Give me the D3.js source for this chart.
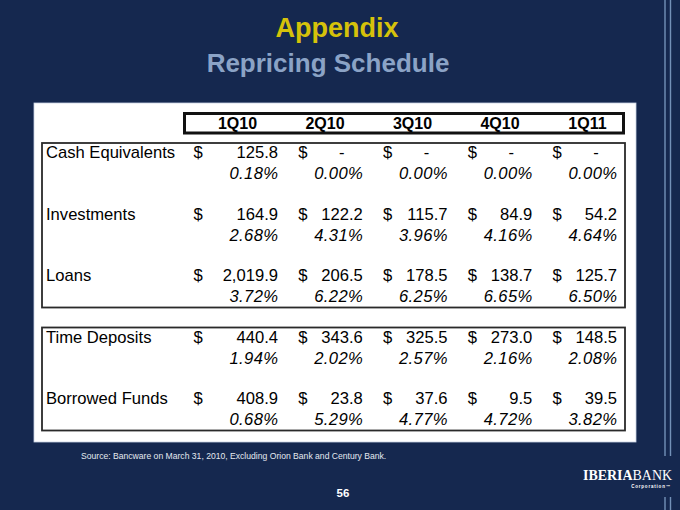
<!DOCTYPE html>
<html><head><meta charset="utf-8">
<script src="https://cdn.jsdelivr.net/npm/d3@7"></script>
<style>
html,body{margin:0;padding:0;background:#15284f;}
svg{display:block;font-family:"Liberation Sans",Arial,sans-serif;}
</style></head>
<body>
<script>
const quarters = ["1Q10","2Q10","3Q10","4Q10","1Q11"];
const rowLabels = ["Cash Equivalents","Investments","Loans","Time Deposits","Borrowed Funds"];
const cashEquivalents = [125.8, 0, 0, 0, 0];
const cashEquivalentsRate = [0.18, 0.00, 0.00, 0.00, 0.00];
const investments = [164.9, 122.2, 115.7, 84.9, 54.2];
const investmentsRate = [2.68, 4.31, 3.96, 4.16, 4.64];
const loans = [2019.9, 206.5, 178.5, 138.7, 125.7];
const loansRate = [3.72, 6.22, 6.25, 6.65, 6.50];
const timeDeposits = [440.4, 343.6, 325.5, 273.0, 148.5];
const timeDepositsRate = [1.94, 2.02, 2.57, 2.16, 2.08];
const borrowedFunds = [408.9, 23.8, 37.6, 9.5, 39.5];
const borrowedFundsRate = [0.68, 5.29, 4.77, 4.72, 3.82];
const groups = [["Cash Equivalents","Investments","Loans"],["Time Deposits","Borrowed Funds"]];

const rows = [
  {label: rowLabels[0], amt: cashEquivalents, rate: cashEquivalentsRate},
  {label: rowLabels[1], amt: investments, rate: investmentsRate},
  {label: rowLabels[2], amt: loans, rate: loansRate},
  {label: rowLabels[3], amt: timeDeposits, rate: timeDepositsRate},
  {label: rowLabels[4], amt: borrowedFunds, rate: borrowedFundsRate}
];

const W = 680, H = 510;
const FS = 16.6;
const svg = d3.select("body").append("svg").attr("width", W).attr("height", H);
svg.append("rect").attr("width", W).attr("height", H).attr("fill", "#15284f");

// decorative vertical lines on the right
[665, 670.5].forEach(x => {
  svg.append("line").attr("x1", x).attr("x2", x).attr("y1", 0).attr("y2", 456)
    .attr("stroke", "#7391b8").attr("stroke-width", 1.4);
  svg.append("line").attr("x1", x).attr("x2", x).attr("y1", 497).attr("y2", H)
    .attr("stroke", "#7391b8").attr("stroke-width", 1.4);
});

// titles
svg.append("text").attr("x", 337).attr("y", 37).attr("text-anchor", "middle")
  .attr("font-size", 27).attr("font-weight", "bold").attr("fill", "#d6c20a").text("Appendix");
svg.append("text").attr("x", 328).attr("y", 72).attr("text-anchor", "middle")
  .attr("font-size", 26).attr("font-weight", "bold").attr("fill", "#8ba3c6").text("Repricing Schedule");

// white panel
svg.append("rect").attr("x", 34).attr("y", 103).attr("width", 602).attr("height", 339)
  .attr("fill", "#ffffff").attr("stroke", "#c9d3e3").attr("stroke-width", 0.8);

const x = d3.scalePoint().domain(quarters).range([278, 617]);
const hx = d3.scalePoint().domain(quarters).range([237.5, 587.5]);
const y = d3.scalePoint().domain(rowLabels).range([158, 404]);

// header box
svg.append("rect").attr("x", 184.5).attr("y", 113.5).attr("width", 439).attr("height", 19.5)
  .attr("fill", "none").attr("stroke", "#111").attr("stroke-width", 3);
svg.selectAll("text.hdr").data(quarters).join("text").attr("class", "hdr")
  .attr("x", d => hx(d)).attr("y", 128.5).attr("text-anchor", "middle")
  .attr("font-size", 16).attr("font-weight", "bold").attr("fill", "#000").text(d => d);

// group boxes
groups.forEach(g => {
  const top = y(g[0]) - 15;
  const bottom = y(g[g.length - 1]) + 26.5;
  svg.append("rect").attr("x", 42).attr("y", top).attr("width", 583).attr("height", bottom - top)
    .attr("fill", "none").attr("stroke", "#2a2a2a").attr("stroke-width", 1.8);
});

const fAmt = d3.format(",.1f");
const fRate = d3.format(".2f");

rows.forEach(r => {
  const yy = y(r.label);
  const g = svg.append("g");
  g.append("text").attr("x", 46).attr("y", yy).attr("font-size", FS).attr("fill", "#000").text(r.label);
  quarters.forEach((q, i) => {
    const right = x(q);
    g.append("text").attr("x", right - (i === 0 ? 80 : 60)).attr("y", yy).attr("text-anchor", "middle")
      .attr("font-size", FS).attr("fill", "#000").text("$");
    const v = r.amt[i];
    if (v === 0) {
      g.append("text").attr("x", right - 21).attr("y", yy).attr("text-anchor", "middle")
        .attr("font-size", FS).attr("fill", "#000").text("-");
    } else {
      g.append("text").attr("x", right).attr("y", yy).attr("text-anchor", "end")
        .attr("font-size", FS).attr("fill", "#000").text(fAmt(v));
    }
    g.append("text").attr("x", right + 0.5).attr("y", yy + 21).attr("text-anchor", "end")
      .attr("font-size", FS).attr("font-style", "italic").attr("letter-spacing", 0.4).attr("fill", "#000").text(fRate(r.rate[i]) + "%");
  });
});

// source
svg.append("text").attr("x", 81).attr("y", 459).attr("font-size", 8.6).attr("fill", "#e4e8f0")
  .text("Source: Bancware on March 31, 2010, Excluding Orion Bank and Century Bank.");
// page number
svg.append("text").attr("x", 343).attr("y", 497).attr("text-anchor", "middle")
  .attr("font-size", 11.5).attr("font-weight", "bold").attr("fill", "#ffffff").text("56");

// logo
const logo = svg.append("text").attr("x", 583).attr("y", 480).attr("font-family", "'Liberation Serif', 'DejaVu Serif', serif")
  .attr("font-size", 14).attr("fill", "#ffffff").attr("textLength", 89).attr("lengthAdjust", "spacingAndGlyphs");
logo.append("tspan").attr("font-weight", "bold").text("IBERIA");
logo.append("tspan").text("BANK");
svg.append("text").attr("x", 671).attr("y", 488).attr("text-anchor", "end")
  .attr("font-size", 4.5).attr("font-weight", "bold").attr("letter-spacing", 0.8).attr("fill", "#ffffff").text("Corporation\u2122");
</script>
</body></html>
